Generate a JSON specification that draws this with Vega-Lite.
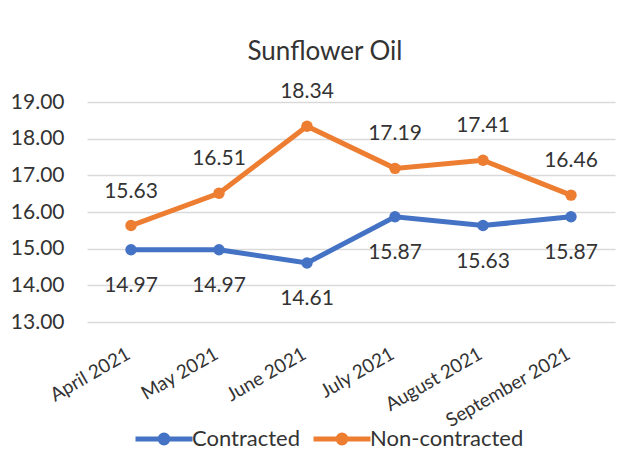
{
  "$schema": "https://vega.github.io/schema/vega-lite/v6.json",
  "autosize": "none",
  "width": 528,
  "height": 220,
  "padding": {"left": 87, "top": 102, "right": 19, "bottom": 130},
  "background": "white",
  "title": {
    "text": "Sunflower Oil",
    "font": "Lato",
    "fontSize": 26,
    "fontWeight": "normal",
    "color": "#333333",
    "anchor": "middle",
    "frame": "group",
    "baseline": "alphabetic",
    "offset": -5,
    "dx": -26
  },
  "data": {
    "values": [
      {"month": "April 2021", "series": "Contracted", "value": 14.97},
      {"month": "May 2021", "series": "Contracted", "value": 14.97},
      {"month": "June 2021", "series": "Contracted", "value": 14.61},
      {"month": "July 2021", "series": "Contracted", "value": 15.87},
      {"month": "August 2021", "series": "Contracted", "value": 15.63},
      {"month": "September 2021", "series": "Contracted", "value": 15.87},
      {"month": "April 2021", "series": "Non-contracted", "value": 15.63},
      {"month": "May 2021", "series": "Non-contracted", "value": 16.51},
      {"month": "June 2021", "series": "Non-contracted", "value": 18.34},
      {"month": "July 2021", "series": "Non-contracted", "value": 17.19},
      {"month": "August 2021", "series": "Non-contracted", "value": 17.41},
      {"month": "September 2021", "series": "Non-contracted", "value": 16.46}
    ]
  },
  "encoding": {
    "x": {
      "field": "month",
      "type": "nominal",
      "sort": null,
      "title": null,
      "axis": {
        "domain": false,
        "ticks": false,
        "grid": false,
        "labelAngle": -30,
        "labelAlign": "right",
        "labelBaseline": "middle",
        "labelPadding": 30,
        "labelOffset": -3,
        "labelFont": "Lato",
        "labelFontSize": 19,
        "labelColor": "#333333"
      }
    },
    "y": {
      "field": "value",
      "type": "quantitative",
      "title": null,
      "scale": {"domain": [13, 19], "nice": false, "zero": false},
      "axis": {
        "values": [13, 14, 15, 16, 17, 18, 19],
        "format": ".2f",
        "domain": false,
        "ticks": false,
        "grid": true,
        "gridColor": "#d9d9d9",
        "gridWidth": 1.5,
        "labelPadding": 23,
        "labelFont": "Lato",
        "labelFontSize": 21,
        "labelColor": "#333333"
      }
    },
    "color": {
      "field": "series",
      "type": "nominal",
      "scale": {"domain": ["Contracted", "Non-contracted"], "range": ["#4472C4", "#ED7D31"]},
      "legend": {
        "title": null,
        "orient": "none",
        "direction": "horizontal",
        "legendX": 46,
        "legendY": 306,
        "symbolType": "M-1,0L1,0M-0.14,0A0.14,0.14,0,1,1,0.14,0A0.14,0.14,0,1,1,-0.14,0Z",
        "symbolSize": 3249,
        "symbolStrokeWidth": 5,
        "labelFont": "Lato",
        "labelFontSize": 22,
        "labelColor": "#333333",
        "labelOffset": -3,
        "columnPadding": 3,
        "encode": {
          "symbols": {
            "update": {
              "fill": {"scale": "color", "field": "value"},
              "stroke": {"scale": "color", "field": "value"},
              "strokeWidth": {"value": 5},
              "opacity": {"value": 1}
            }
          }
        }
      }
    }
  },
  "layer": [
    {"mark": {"type": "line", "strokeWidth": 5}},
    {"mark": {"type": "point", "filled": true, "size": 130, "opacity": 1}},
    {
      "transform": [{"filter": "datum.series === 'Non-contracted'"}],
      "mark": {"type": "text", "dy": -34, "font": "Lato", "fontSize": 21, "color": "#333333"},
      "encoding": {
        "text": {"field": "value", "type": "quantitative", "format": ".2f"},
        "color": {"value": "#333333"}
      }
    },
    {
      "transform": [{"filter": "datum.series === 'Contracted'"}],
      "mark": {"type": "text", "dy": 36, "font": "Lato", "fontSize": 21, "color": "#333333"},
      "encoding": {
        "text": {"field": "value", "type": "quantitative", "format": ".2f"},
        "color": {"value": "#333333"}
      }
    }
  ],
  "config": {"view": {"stroke": null}}
}
